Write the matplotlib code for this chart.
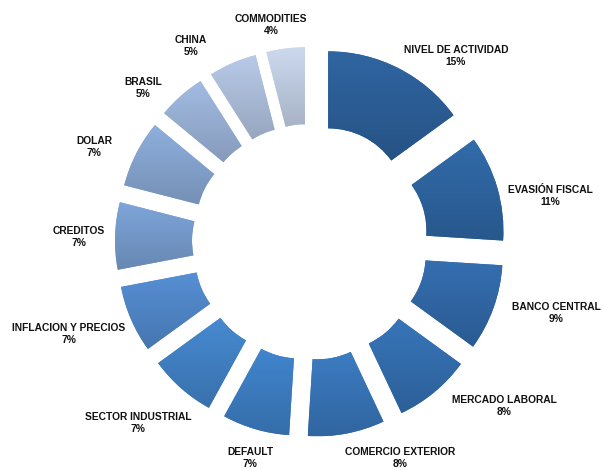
import matplotlib
matplotlib.use("Agg")
import matplotlib.pyplot as plt
import numpy as np
from matplotlib.colors import to_rgb

labels = ["NIVEL DE ACTIVIDAD", "EVASIÓN FISCAL", "BANCO CENTRAL", "MERCADO LABORAL",
          "COMERCIO EXTERIOR", "DEFAULT", "SECTOR INDUSTRIAL", "INFLACION Y PRECIOS",
          "CREDITOS", "DOLAR", "BRASIL", "CHINA", "COMMODITIES"]
shares = [15, 11, 9, 8, 8, 7, 7, 7, 7, 7, 5, 5, 4]

# base colours, dark navy -> pale blue
colors = ["#2c609a", "#2e66a3", "#3169a9", "#336fb1", "#3876ba", "#3d7fc5", "#4283c8",
          "#5189cc", "#789ed0", "#88a8d4", "#9cb4da", "#b0c2df", "#c3d0e6"]

# label anchor positions (px from chart centre, y up)
label_pos = [(146, 186), (240, 46), (246, -71), (194, -164), (90, -216), (-60, -216),
             (-172, -181), (-241, -92), (-231, 5), (-216, 95), (-167, 154), (-119, 196),
             (-39, 217)]

W, H = 602, 470
CX, CY = 310, 470 - 242
R = 155
EXPL = 40  # pie() takes explode in data units

fig = plt.figure(figsize=(W / 100, H / 100), dpi=100)
ax = fig.add_axes([0, 0, 1, 1])

wedges, _ = ax.pie(shares, radius=R, center=(CX, CY), startangle=90, counterclock=False,
                   explode=[EXPL] * len(shares), colors=colors,
                   wedgeprops=dict(width=R - 78, linewidth=0))

ax.set_xlim(0, W)
ax.set_ylim(0, H)
ax.set_aspect("equal")
ax.axis("off")

# vertical shading inside every wedge: lighter on top, darker at the bottom
inv = ax.transData.inverted()
for w, c in zip(wedges, colors):
    base = np.array(to_rgb(c))
    top = np.clip(base * 1.03 + 0.01, 0, 1)
    bot = base * 0.86
    t = np.linspace(0, 1, 64)[:, None]
    grad = top * (1 - t) + bot * t
    img = np.repeat(grad[:, None, :], 2, axis=1)
    bb = w.get_window_extent()
    (x0, y0), (x1, y1) = inv.transform([[bb.x0, bb.y0], [bb.x1, bb.y1]])
    im = ax.imshow(img, extent=(x0, x1, y0, y1), origin="upper",
                   aspect="auto", zorder=w.get_zorder() + 0.1, interpolation="bilinear")
    im.set_clip_path(w)

ax.set_xlim(0, W)
ax.set_ylim(0, H)

for lab, s, (dx, dy) in zip(labels, shares, label_pos):
    ax.text(CX + dx, CY + dy, f"{lab}\n{s}%", ha="center", va="center",
            fontsize=7.4, fontweight="bold", color="#111111", linespacing=1.3,
            family=["Liberation Sans", "DejaVu Sans"])

fig.savefig("out.png", dpi=100)
